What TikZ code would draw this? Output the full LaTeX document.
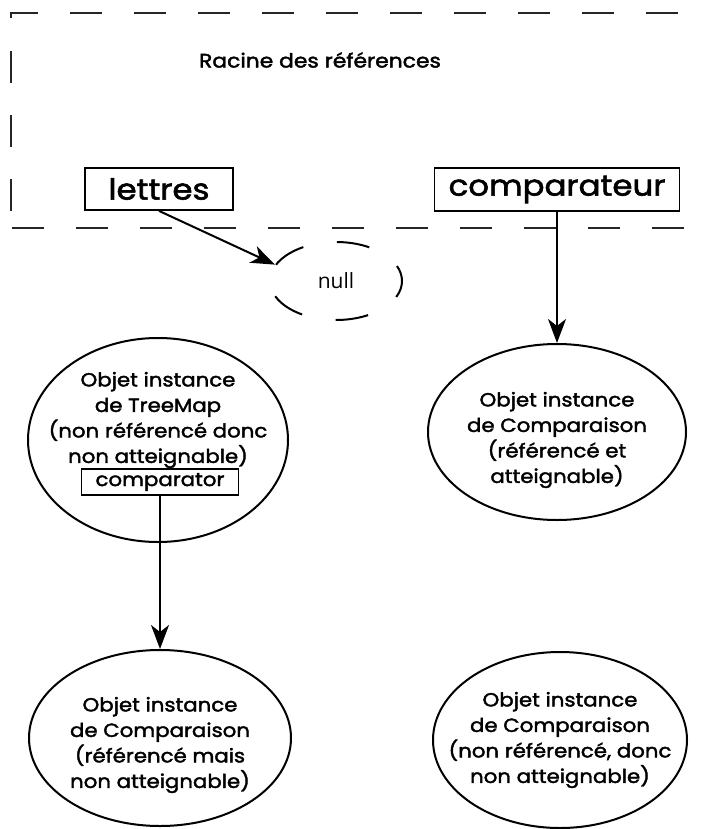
\documentclass[tikz,border=0pt]{standalone}
\usepackage{fontspec}
\setmainfont{Poppins}[FakeStretch=1.12,FakeBold=2]
\newfontfamily\nulltextfont{Open Sans}
\usetikzlibrary{shapes.geometric,arrows.meta}
\begin{document}
\begin{tikzpicture}[x=1pt,y=-1pt,
  frame/.style={line width=2.6pt, dash pattern=on 32pt off 32pt, color=black!85},
  refbox/.style={draw, line width=1.8pt, inner sep=0pt},
  obj/.style={draw, ellipse, line width=2pt, inner sep=0pt},
  objtext/.style={align=center, inner sep=0pt, font=\fontsize{19}{25.5}\selectfont},
  conn/.style={line width=2pt, -{Stealth[length=24pt,width=18pt,inset=7pt]}}]
\useasboundingbox (0,0) rectangle (708,829);
% dashed frame of the root set
\draw[frame] (11,18) -- (11,13) -- (708,13);
\draw[frame] (11,51) -- (11,229);
\draw[frame] (12,228) -- (708,228);
\node[font=\fontsize{19.5}{22}\selectfont] (racine) at (320,60) {Racine des références};
% references
\node[refbox, minimum width=148pt, minimum height=42pt, font=\fontsize{29}{30}\selectfont] (lettres) at (159,189) {lettres};
\node[refbox, minimum width=245pt, minimum height=43pt, font=\fontsize{29}{30}\selectfont] (comparateur) at (557,189.5) {comparateur};
% null
\node[ellipse, draw, line width=2pt, dash pattern=on 33pt off 34pt, dash phase=17pt,
      minimum width=132pt, minimum height=78pt, inner sep=0pt,
      font=\nulltextfont\fontsize{21}{24}\selectfont] (nul) at (336,281) {null};
% objects
\node[obj, minimum width=260pt, minimum height=204pt] (treemap) at (158,440) {};
\node[objtext] (treemaptext) at (158,420) {Objet instance\\de TreeMap\\(non référencé donc\\non atteignable)};
\node[draw, line width=1.8pt, minimum width=157pt, minimum height=26pt, inner sep=0pt,
      font=\fontsize{19}{20}\selectfont] (cmp) at (160,482) {comparator};
\node[obj, minimum width=258pt, minimum height=176pt] (cmpA) at (557,432) {};
\node[objtext] (cmpAtext) at (557,440) {Objet instance\\de Comparaison\\(référencé et\\atteignable)};
\node[obj, minimum width=262pt, minimum height=176pt] (cmpB) at (160,738) {};
\node[objtext] (cmpBtext) at (160,745) {Objet instance\\de Comparaison\\(référencé mais\\non atteignable)};
\node[obj, minimum width=254pt, minimum height=176pt] (cmpC) at (560,740) {};
\node[objtext] (cmpCtext) at (560,740) {Objet instance\\de Comparaison\\(non référencé, donc\\non atteignable)};
% connectors
\draw[conn] (lettres.south) -- (nul.165);
\draw[conn] (comparateur.south) -- (cmpA.north);
\draw[conn] (cmp.south) -- (cmpB.north);
\end{tikzpicture}
\end{document}
